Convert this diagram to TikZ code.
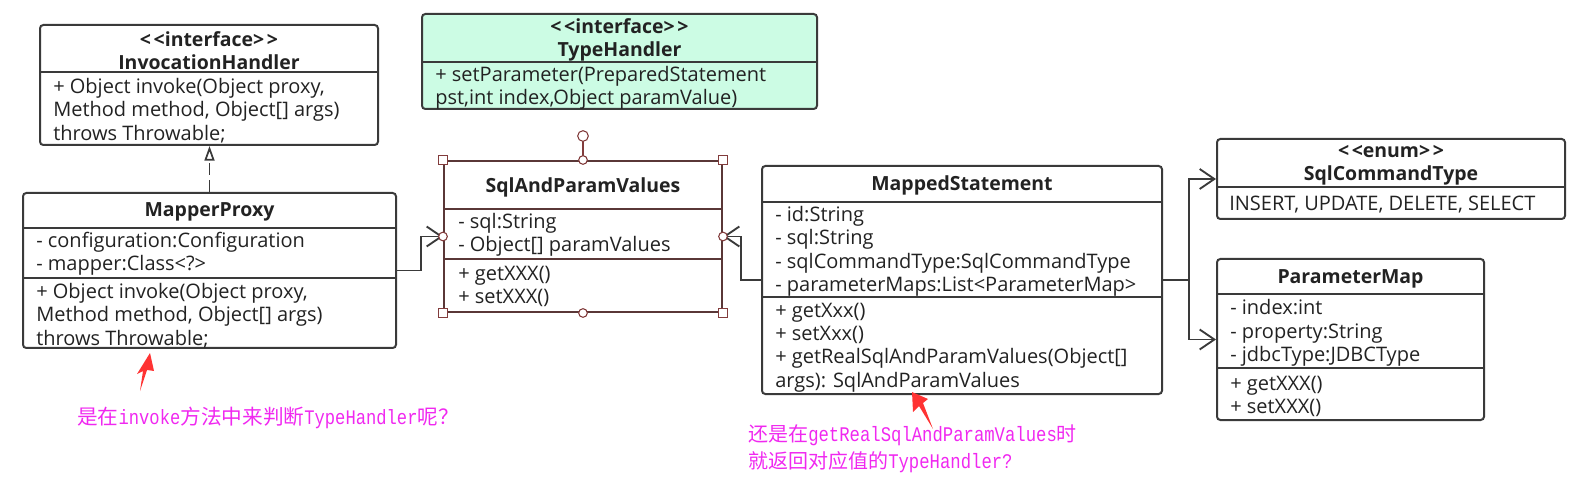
\documentclass[tikz,border=0pt]{standalone}
\usepackage{fontspec}
\setmainfont{Open Sans}
\newfontfamily\cjkfont{Noto Sans CJK SC}
\newfontfamily\asciifont{Liberation Mono}[FakeStretch=0.83]
\usetikzlibrary{arrows.meta,fit}

\definecolor{umlline}{RGB}{58,58,58}
\definecolor{umltext}{RGB}{34,34,34}
\definecolor{mint}{RGB}{204,252,228}
\definecolor{selline}{RGB}{90,55,55}
\definecolor{selred}{RGB}{130,60,60}
\definecolor{notemag}{RGB}{240,40,240}
\definecolor{notered}{RGB}{255,51,51}

\newcommand{\umlfont}{\fontsize{15}{17.6}\selectfont}
\newcommand{\umlbold}{\fontsize{14.6}{17.6}\selectfont\bfseries}
\newcommand{\zh}[1]{{\cjkfont #1}}
\newcommand{\en}[1]{{\asciifont #1}}
\newcommand{\stereo}[1]{<\kern2pt<#1>\kern2pt>}

\tikzset{
  classbox/.style={draw=umlline, line width=1.5pt, rounded corners=2.5pt, inner sep=0pt},
  sep/.style={draw=umlline, line width=1.3pt},
  title/.style={font=\umlbold, text=umltext, align=center, inner sep=0pt},
  members/.style={font=\umlfont, text=umltext, align=left, anchor=west, inner sep=0pt},
  assoc/.style={draw=umlline, line width=1.4pt, -{Straight Barb[length=11pt,width=15pt,line width=1.4pt]}},
  realize/.style={draw=umlline, line width=1.4pt, dash pattern=on 9pt off 4pt, -{Triangle[open,length=11pt,width=7.5pt,line width=1.3pt]}},
  handle/.style={draw=selred, fill=white, line width=0.8pt, inner sep=0pt},
  note/.style={text=notemag, anchor=west, inner sep=0pt, align=left},
}

\begin{document}
\begin{tikzpicture}[x=0.75pt, y=-0.75pt]
\useasboundingbox (0,0) rectangle (1580,484);

% class boxes
\node[classbox, fit={(40,25) (378,145)}] (ih) {};
\node[classbox, fit={(23,193) (396,348)}] (mp) {};
\node[classbox, fill=mint, fit={(422,14) (817,109)}] (th) {};
\node[draw=selline, line width=1.5pt, inner sep=0pt, fit={(444,161) (722,312)}] (sapv) {};
\node[classbox, fit={(762,166) (1162,394)}] (ms) {};
\node[classbox, fit={(1217,139) (1565,219)}] (sct) {};
\node[classbox, fit={(1217,259) (1484,420)}] (pm) {};

% compartments
\draw[sep] (ih.west |- 0,72) -- (ih.east |- 0,72);
\draw[sep] (mp.west |- 0,228) -- (mp.east |- 0,228);
\draw[sep] (mp.west |- 0,278) -- (mp.east |- 0,278);
\draw[sep] (th.west |- 0,62) -- (th.east |- 0,62);
\draw[sep, draw=selline] (sapv.west |- 0,209) -- (sapv.east |- 0,209);
\draw[sep, draw=selline] (sapv.west |- 0,259) -- (sapv.east |- 0,259);
\draw[sep] (ms.west |- 0,202) -- (ms.east |- 0,202);
\draw[sep] (ms.west |- 0,297) -- (ms.east |- 0,297);
\draw[sep] (sct.west |- 0,187) -- (sct.east |- 0,187);
\draw[sep] (pm.west |- 0,294) -- (pm.east |- 0,294);
\draw[sep] (pm.west |- 0,368) -- (pm.east |- 0,368);

% texts
\node[title] (ihname) at (209,50.5) {\stereo{interface}\\InvocationHandler};
\node[members] (ihops) at (53,110.5) {+ Object invoke(Object proxy,\\Method method, Object[] args)\\throws Throwable;};

\node[title] (mpname) at (209.5,212) {MapperProxy};
\node[members] (mpattr) at (36,254) {- configuration:Configuration\\- mapper:Class<?>};
\node[members] (mpops) at (36,315.5) {+ Object invoke(Object proxy,\\Method method, Object[] args)\\throws Throwable;};

\node[title] (thname) at (619.5,40) {\stereo{interface}\\TypeHandler};
\node[members] (thops) at (435,88) {+ setParameter(PreparedStatement\\pst,int index,Object paramValue)};

\node[title] (sapvname) at (583,187) {SqlAndParamValues};
\node[members] (sapvattr) at (458,235) {- sql:String\\- Object[] paramValues};
\node[members] (sapvops) at (458,286.5) {+ getXXX()\\+ setXXX()};

\node[title] (msname) at (962,185) {MappedStatement};
\node[members] (msattr) at (775,251.5) {- id:String\\- sql:String\\- sqlCommandType:SqlCommandType\\- parameterMaps:List<ParameterMap>};
\node[members] (msops) at (775,347.5) {+ getXxx()\\+ setXxx()\\+ getRealSqlAndParamValues(Object[]\\args): SqlAndParamValues};

\node[title] (sctname) at (1391,165) {\stereo{enum}\\SqlCommandType};
\node[members] (sctvals) at (1229,205) {INSERT, UPDATE, DELETE, SELECT};

\node[title] (pmname) at (1350.5,279) {ParameterMap};
\node[members] (pmattr) at (1230,333) {- index:int\\- property:String\\- jdbcType:JDBCType};
\node[members] (pmops) at (1230,396.5) {+ getXXX()\\+ setXXX()};

% connectors
\draw[realize] (mp.north) -- (mp.north |- ih.south);
\draw[assoc] (mp.east) -- ++(24,0) |- (sapv.west);
\draw[assoc] (ms.west) -- ++(-20,0) |- (sapv.east);
\draw[assoc] (ms.east) -- ++(26,0) |- (sct.west);
\draw[assoc] (ms.east) -- ++(26,0) |- (pm.west);

% selection handles
\draw[selred, line width=0.8pt] (sapv.north) -- ++(0,-24) node[handle, circle, minimum size=8pt] (rot) {};
\foreach \c in {north west, north east, south west, south east}
  \node[handle, rectangle, minimum size=7pt] (sq-\c) at (sapv.\c) {};
\foreach \c in {north, south, west, east}
  \node[handle, circle, minimum size=6.5pt] (ci-\c) at (sapv.\c) {};

% notes
\fill[notered] (150,353) -- (137,374) -- (143,371) -- (140,391) -- (147,370) -- (154,371) -- cycle;
\fill[notered] (912,392) -- (913,412) -- (919,406) -- (933,429) -- (923,403) -- (928,399) -- cycle;

\node[note, font=\fontsize{15.5}{20}\selectfont] (note1) at (77,418)
  {\zh{是在}\en{\fontsize{15.5}{20}\selectfont invoke}\zh{方法中来判断}\en{\fontsize{15.5}{20}\selectfont TypeHandler}\zh{呢？}};
\node[note, font=\fontsize{15}{20.3}\selectfont] (note2) at (748,448.5)
  {\zh{还是在}\en{\fontsize{15.6}{20.3}\selectfont getRealSqlAndParamValues}\zh{时}\\
   \zh{就返回对应值的}\en{\fontsize{15.6}{20.3}\selectfont TypeHandler?}};
\end{tikzpicture}
\end{document}
